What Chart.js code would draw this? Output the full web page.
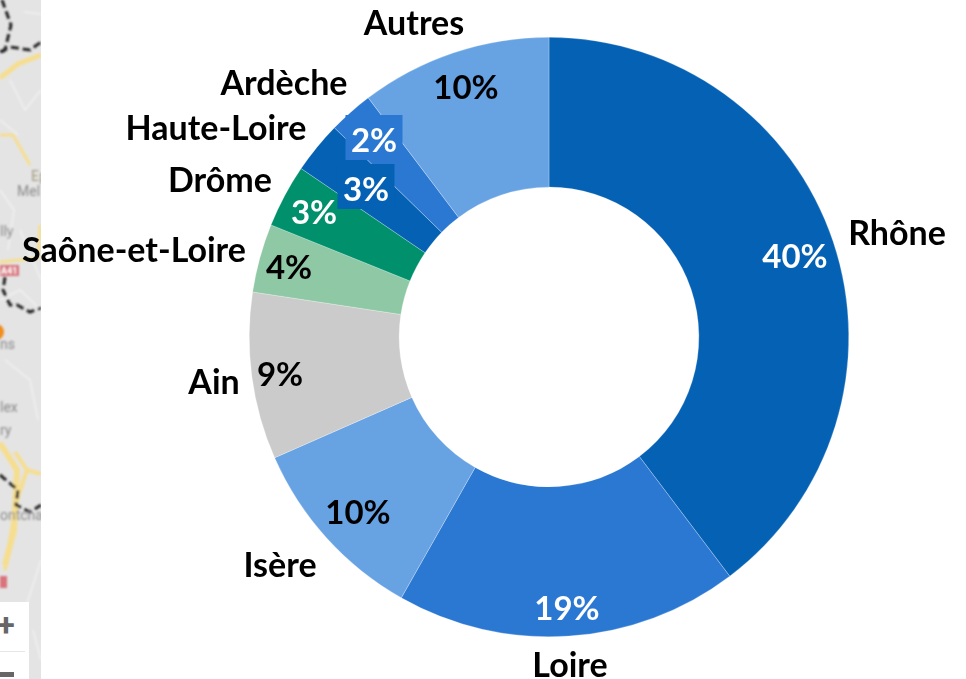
<!DOCTYPE html>
<html>
<head>
<meta charset="utf-8">
<title>Répartition par département</title>
<script src="https://cdn.jsdelivr.net/npm/chart.js@4"></script>
<style>
html,body{margin:0;padding:0;background:#fff;overflow:hidden}
#wrap{position:relative;width:966px;height:679px}
#map{position:absolute;left:0;top:0}
#c{position:absolute;left:0;top:0}
</style>
</head>
<body>
<div id="wrap">
<svg id="map" width="41" height="679" viewBox="0 0 41 679" font-family="Roboto, sans-serif">
  <defs><filter id="b" x="-20%" y="-5%" width="140%" height="110%"><feGaussianBlur stdDeviation="1"/></filter></defs>
  <rect width="41" height="679" fill="#E4E4E4"/>
  <g filter="url(#b)">
    <g fill="none" stroke="#F1F1F1" stroke-width="1.5">
      <path d="M24 12 L41 14"/><path d="M10 80 L25 110 L41 90"/><path d="M0 120 L18 135"/>
      <path d="M0 190 L14 210 L8 250"/><path d="M20 230 L41 280"/><path d="M0 300 L20 290 L41 310"/>
      <path d="M5 360 L30 380 L38 420"/><path d="M41 560 L25 610 L14 640"/><path d="M33 630 L41 660"/>
    </g>
    <g fill="none" stroke="#F6DE8F" stroke-width="4">
      <path d="M0 78 L18 64 L41 55" stroke-width="5"/><path d="M0 135 L13 135 L30 165" stroke-width="3"/>
      <path d="M40 225 L38 258 L0 262" stroke-width="3"/>
      <path d="M0 443 L17 470 L14 530 L5 565" stroke-width="6"/><path d="M15 452 L27 470 L17 500 L5 570" stroke-width="4"/><path d="M27 470 L41 474"/>
    </g>
    <g fill="none" stroke="#222" stroke-width="3" stroke-dasharray="8 4">
      <path d="M2 0 L11 25 L5 50 L0 53"/><path d="M0 52 L10 47 L30 50 L41 42"/>
      <path d="M5 277 L3 290 L10 305 L17 305 L30 312 L41 308"/>
      <path d="M0 475 L18 490 L16 505 L30 512 L41 505"/>
    </g>
    <rect x="0" y="265" width="19" height="11" fill="#D9737C"/>
    <rect x="0" y="576" width="7" height="12" fill="#D9737C"/>
    <circle cx="-4" cy="332" r="8" fill="#F28C1E"/>
    <g fill="#8A8A8A" font-size="14">
      <text x="31" y="181" fill="#A59A80">Ep</text><text x="17" y="196">Mel</text><text x="0" y="236">lly</text>
      <text x="0" y="349">ns</text><text x="0" y="412">lex</text><text x="0" y="435">ry</text><text x="0" y="520">ontcha</text>
    </g>
    <text x="1" y="274" font-size="9" font-weight="700" fill="#fff">A41</text>
  </g>
  <rect x="0" y="602" width="29" height="77" fill="#fff"/>
  <rect x="0" y="651" width="25" height="1" fill="#E6E6E6"/>
  <text x="6" y="636" text-anchor="middle" font-size="32" font-weight="700" fill="#666">+</text>
  <rect x="0" y="672" width="14" height="5" fill="#666"/>
</svg>
<canvas id="c" width="966" height="679"></canvas>
</div>
<script>
const categories = ['Rhône','Loire','Isère','Ain','Saône-et-Loire','Drôme','Haute-Loire','Ardèche','Autres'];
const shares = [39.7,18.5,10.2,9.0,3.7,3.4,2.8,2.4,10.3];
const sliceColors = ['#0461B4','#2B78D3','#67A2E3','#CBCBCB','#8FC8A4','#00906C','#0461B4','#2B78D3','#67A2E3'];
const percentColors = ['#fff','#fff','#000','#000','#000','#fff','#fff','#fff','#000'];
const percentBoxed = [false,false,false,false,false,false,true,true,false];
// text placement (centre of each text)
const nameAnchors = [[897,234],[570,666],[280,566],[214,383],[134,251],[220,181],[216,129],[284,84],[414,24]];
const percentAnchors = [[795,257],[567,609],[358,513],[280,375],[289,268],[314,213],[366,190],[374,141],[466,88]];
const NAME_FONT = 'bold 34px Lato, "Open Sans", sans-serif';
const PERCENT_FONT = 'bold 33px Lato, "Open Sans", sans-serif';

const textPlugin = {
  id: 'sliceText',
  afterDatasetsDraw(chart){
    const ctx = chart.ctx;
    ctx.save();
    ctx.textAlign = 'center';
    ctx.textBaseline = 'middle';
    categories.forEach((name,i)=>{
      const label = Math.round(shares[i]) + '%';
      const [px,py] = percentAnchors[i];
      if (percentBoxed[i]) {
        ctx.fillStyle = sliceColors[i];
        ctx.fillRect(px-28.5, py-26, 57, 45);
      }
      ctx.font = PERCENT_FONT;
      ctx.fillStyle = percentColors[i];
      ctx.fillText(label, px, py);
      ctx.font = NAME_FONT;
      ctx.fillStyle = '#000';
      ctx.fillText(name, nameAnchors[i][0], nameAnchors[i][1]);
    });
    ctx.restore();
  }
};

new Chart(document.getElementById('c'), {
  type: 'doughnut',
  data: {
    labels: categories,
    datasets: [{ data: shares, backgroundColor: sliceColors, borderWidth: 0.5, borderColor: '#ffffff80', hoverOffset: 0 }]
  },
  options: {
    responsive: false,
    animation: false,
    cutout: '50%',
    layout: { padding: { left: 249, right: 117, top: 37, bottom: 42 } },
    plugins: { legend: { display: false }, tooltip: { enabled: false } }
  },
  plugins: [textPlugin]
});
</script>
</body>
</html>
